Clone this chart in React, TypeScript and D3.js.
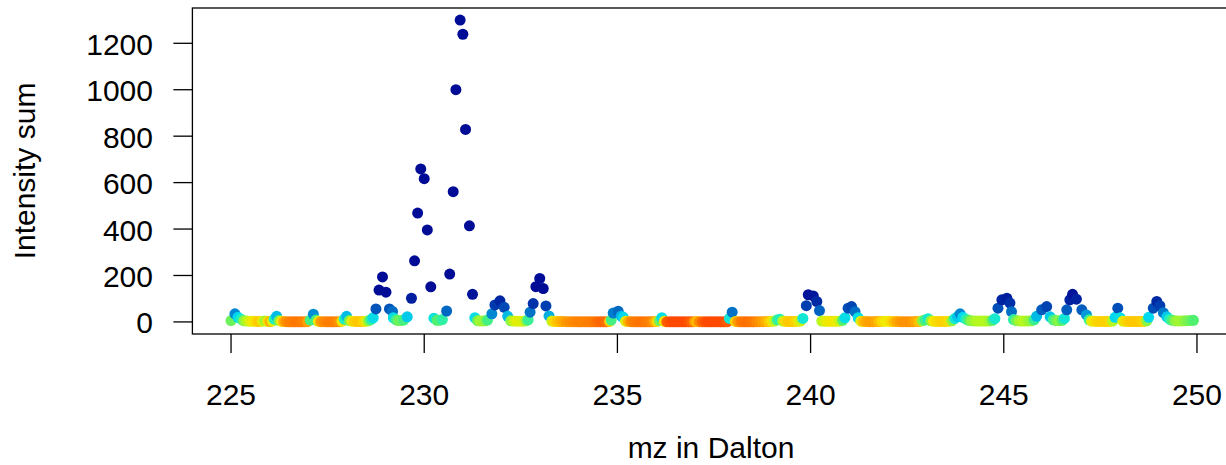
import React from "react";
import * as d3 from "d3";

// [mz, intensity sum], grouped by m/z range
const peaks225: [number, number][] = [
  [225.0, 6], [225.1, 35], [225.18, 20], [225.26, 12], [225.33, 5], [225.41, 4], [225.49, 3], [225.57, 2.7],
  [225.65, 2.2], [225.73, 1.8], [225.81, 3], [225.88, 4.5], [225.95, 2.5], [226.01, 1.4], [226.07, 3], [226.12, 12],
  [226.18, 24], [226.24, 6], [226.3, 2.7], [226.36, 1.5], [226.42, 1.0], [226.5, 0.8], [226.58, 0.75], [226.66, 0.7],
  [226.74, 0.7], [226.82, 0.75], [226.9, 0.8], [226.98, 1.2], [227.05, 8], [227.13, 33], [227.2, 8], [227.26, 2.7],
  [227.32, 1.2], [227.4, 0.9], [227.48, 0.8], [227.56, 0.75], [227.64, 0.75], [227.72, 0.8], [227.8, 1.0], [227.87, 2.5],
  [227.93, 12], [227.99, 24], [228.06, 6], [228.12, 3], [228.2, 2], [228.28, 1.8], [228.36, 1.8], [228.43, 2.2],
  [228.5, 3], [228.56, 5], [228.62, 10], [228.68, 18], [228.75, 56], [228.83, 137], [228.92, 194], [229.01, 128],
  [229.1, 56], [229.18, 45], [229.2, 18], [229.27, 9], [229.33, 6], [229.4, 6], [229.47, 8], [229.56, 22],
];

const peaks230: [number, number][] = [
  [229.67, 102], [229.75, 263], [229.83, 469], [229.91, 659], [230.0, 617], [230.08, 396], [230.17, 151], [230.25, 16],
  [230.33, 7], [230.4, 7], [230.47, 10], [230.58, 47], [230.66, 206], [230.75, 561], [230.82, 1000], [230.93, 1300],
  [231.0, 1239], [231.07, 829], [231.17, 414], [231.25, 119], [231.31, 18], [231.38, 6], [231.44, 4.5], [231.51, 4.5],
  [231.58, 5], [231.64, 8], [231.75, 35], [231.83, 73], [231.96, 91], [232.07, 63], [232.16, 24], [232.24, 5],
  [232.32, 3.5], [232.4, 3], [232.48, 3], [232.56, 3.2], [232.64, 5], [232.69, 9], [232.74, 42], [232.82, 79],
  [232.89, 152], [232.99, 187], [233.08, 144], [233.15, 69], [233.23, 26], [233.3, 3.5],
];

const peaks234: [number, number][] = [
  [233.37, 2.2], [233.44, 1.8], [233.52, 1.5], [233.6, 1.3], [233.68, 1.1], [233.76, 1.0], [233.84, 0.9], [233.92, 0.85],
  [234.0, 0.8], [234.08, 0.8], [234.16, 0.8], [234.24, 0.75], [234.32, 0.75], [234.4, 0.7], [234.48, 0.6], [234.56, 0.5],
  [234.64, 0.5], [234.72, 0.6], [234.8, 2], [234.84, 8], [234.89, 38], [235.02, 46], [235.1, 25], [235.15, 20],
  [235.21, 3], [235.28, 1.5], [235.35, 0.9], [235.43, 0.75], [235.51, 0.7], [235.59, 0.65], [235.67, 0.65], [235.75, 0.7],
  [235.83, 0.75], [235.9, 0.9], [235.97, 1.4], [236.03, 2.2], [236.09, 6], [236.15, 18], [236.21, 2.5], [236.28, 0.45],
  [236.36, 0.35], [236.44, 0.3], [236.52, 0.3], [236.6, 0.3], [236.68, 0.3], [236.76, 0.3], [236.84, 0.35], [236.92, 0.5],
  [237.0, 1.2], [237.06, 1.6], [237.12, 0.9], [237.2, 0.5], [237.28, 0.35], [237.36, 0.3], [237.44, 0.3], [237.52, 0.3],
  [237.6, 0.3], [237.68, 0.3], [237.76, 0.32], [237.84, 0.4], [237.9, 15], [237.97, 42],
];

const peaks240: [number, number][] = [
  [238.05, 2], [238.12, 1.1], [238.2, 0.75], [238.28, 0.65], [238.36, 0.6], [238.44, 0.65], [238.52, 0.7], [238.6, 0.85],
  [238.68, 1.0], [238.76, 1.2], [238.84, 1.4], [238.92, 1.8], [239.0, 2.5], [239.07, 4], [239.14, 9], [239.21, 12],
  [239.28, 4], [239.35, 2.2], [239.43, 1.8], [239.51, 1.8], [239.59, 2], [239.67, 2.4], [239.74, 3.5], [239.8, 15],
  [239.89, 70], [239.94, 117], [240.07, 112], [240.16, 88], [240.23, 49], [240.29, 4], [240.36, 3.2], [240.44, 2.8],
  [240.52, 2.6], [240.6, 2.6], [240.68, 2.8], [240.76, 3.5], [240.83, 7], [240.89, 18], [240.97, 59], [241.06, 66],
  [241.15, 44], [241.23, 18], [241.3, 3], [241.37, 1.6], [241.45, 1.3], [241.53, 1.2], [241.61, 1.2], [241.69, 1.3],
  [241.77, 1.6], [241.85, 2.2], [241.93, 2.7], [242.01, 2.7], [242.09, 2.2], [242.17, 1.6], [242.25, 1.3], [242.33, 1.1],
  [242.41, 1.0], [242.49, 1.0], [242.57, 1.0], [242.65, 1.1], [242.73, 1.3], [242.81, 1.7], [242.89, 5], [242.96, 8],
];

const peaks245: [number, number][] = [
  [243.04, 14], [243.11, 5], [243.18, 2.7], [243.26, 2.3], [243.34, 2.1], [243.42, 2], [243.5, 2.1], [243.58, 2.4],
  [243.66, 5], [243.73, 14], [243.8, 22], [243.87, 35], [243.94, 20], [244.02, 12], [244.09, 7], [244.16, 5],
  [244.24, 4.5], [244.32, 4], [244.4, 4], [244.48, 4], [244.56, 4], [244.64, 4.5], [244.71, 7], [244.77, 14],
  [244.85, 59], [244.95, 95], [245.08, 102], [245.16, 81], [245.2, 44], [245.25, 10], [245.32, 6], [245.4, 4.5],
  [245.48, 4], [245.56, 4], [245.64, 4.5], [245.72, 5], [245.79, 9], [245.85, 24], [245.98, 52], [246.11, 66],
  [246.2, 22], [246.28, 9], [246.35, 6], [246.43, 5], [246.51, 7], [246.57, 15], [246.63, 52], [246.71, 95],
  [246.78, 119], [246.88, 98], [247.02, 52], [247.14, 30], [247.21, 9], [247.27, 3], [247.35, 2.4], [247.43, 2.1],
  [247.51, 2], [247.59, 2], [247.67, 2], [247.75, 2.2], [247.82, 4], [247.88, 20], [247.95, 59], [248.01, 18],
  [248.08, 3], [248.16, 2.2], [248.24, 1.9], [248.32, 1.8], [248.4, 1.8], [248.48, 1.8], [248.56, 1.9], [248.64, 2.2],
  [248.7, 5], [248.75, 20], [248.87, 59], [248.96, 88], [249.04, 70], [249.13, 40], [249.22, 22], [249.29, 12],
  [249.36, 7], [249.44, 5], [249.52, 4.5], [249.6, 4.5], [249.68, 5], [249.76, 5.5], [249.84, 6], [249.91, 7],
];

const xTicks = [225, 230, 235, 240, 245, 250];
const yTicks = [0, 200, 400, 600, 800, 1000, 1200];
const xTitle = "mz in Dalton";
const yTitle = "Intensity sum";

// reversed jet-like palette: low intensity -> red/orange, high -> dark blue
const paletteBreaks = [0.3, 0.7, 1.2, 1.8, 2.7, 4, 7, 12, 20, 30, 50, 80, 130];
const paletteColors = [
  "#FF4800", "#FF7800", "#FFA000", "#FFC800", "#F2EA00", "#B4F820", "#50F070",
  "#20F0C0", "#00D8F0", "#0098D8", "#0060C0", "#0030A8", "#000C96",
];

const FONT = "'Liberation Sans', Arial, Helvetica, sans-serif";

export default function App() {
  const W = 1226;
  const H = 465;
  const x = d3.scaleLinear().domain([224, 251]).range([192.4, 1235.6]);
  const y = d3.scaleLinear().domain([-52, 1352]).range([334, 8]);
  const color = d3
    .scaleLog<string>()
    .domain(paletteBreaks)
    .range(paletteColors)
    .interpolate(d3.interpolateRgb)
    .clamp(true);

  const points = [...peaks225, ...peaks230, ...peaks234, ...peaks240, ...peaks245];
  const [x0, x1] = x.range();
  const [yb, yt] = y.range();

  return (
    <svg
      width={W}
      height={H}
      viewBox={`0 0 ${W} ${H}`}
      style={{ position: "absolute", left: 0, top: 0, background: "#fff" }}
      fontFamily={FONT}
    >
      <rect x={0} y={0} width={W} height={H} fill="#fff" />
      <g>
        {points.map(([mz, v], i) => (
          <circle key={i} cx={x(mz)} cy={y(v)} r={5.5} fill={color(v)} />
        ))}
      </g>
      <rect
        x={x0}
        y={yt}
        width={x1 - x0}
        height={yb - yt}
        fill="none"
        stroke="#000"
        strokeWidth={1.3}
      />
      {xTicks.map((t) => (
        <g key={`x${t}`}>
          <line x1={x(t)} x2={x(t)} y1={yb} y2={yb + 19} stroke="#000" strokeWidth={1.3} />
          <text x={x(t)} y={405} textAnchor="middle" fontSize={30} fill="#000">
            {t}
          </text>
        </g>
      ))}
      {yTicks.map((t) => (
        <g key={`y${t}`}>
          <line x1={x0} x2={x0 - 19} y1={y(t)} y2={y(t)} stroke="#000" strokeWidth={1.3} />
          <text x={153} y={y(t) + 11.5} textAnchor="end" fontSize={30} fill="#000">
            {t}
          </text>
        </g>
      ))}
      <text x={(x0 + x1) / 2 - 3} y={458} textAnchor="middle" fontSize={30} fill="#000">
        {xTitle}
      </text>
      <text
        transform={`translate(35, ${(yt + yb) / 2}) rotate(-90)`}
        textAnchor="middle"
        fontSize={30}
        fill="#000"
      >
        {yTitle}
      </text>
    </svg>
  );
}
